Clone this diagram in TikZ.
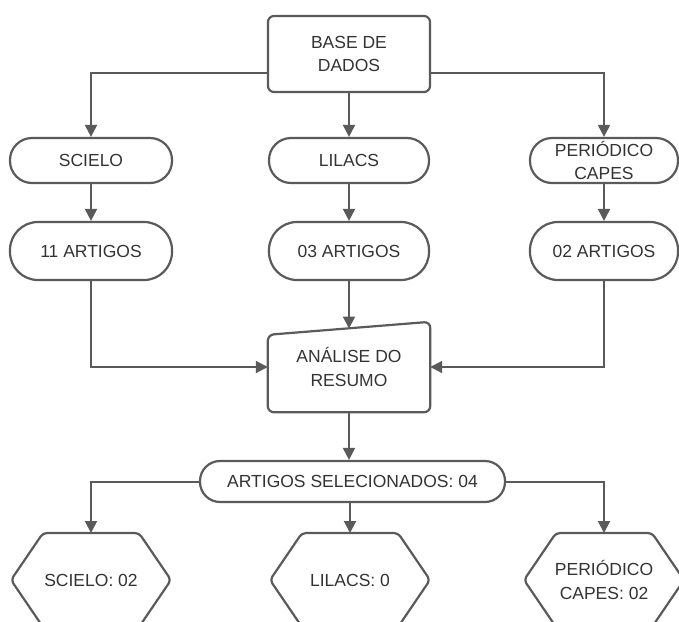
\documentclass[tikz,border=0pt]{standalone}
\usepackage{fontspec}
\setmainfont{Liberation Sans}
\usetikzlibrary{arrows.meta,calc}
\definecolor{ln}{HTML}{5A5A5A}
\definecolor{tx}{HTML}{333333}
\begin{document}
\begin{tikzpicture}[x=1pt,y=-1pt,
  every node/.style={font=\fontsize{17.5}{23.5}\selectfont, text=tx, align=center, inner sep=0pt},
  box/.style={draw=ln, line width=2.2pt, rounded corners=6pt},
  pill/.style={draw=ln, line width=2.2pt},
  link/.style={draw=ln, line width=2pt, -{Triangle[length=12pt,width=12pt]}},
  plain/.style={draw=ln, line width=2.2pt, line join=round}]
\useasboundingbox (0,0) rectangle (679,621);
% top
\node[box, minimum width=162pt, minimum height=76pt] (base) at (349,54) {BASE DE\\DADOS};
% databases
\node[pill, rounded corners=22pt, minimum width=162pt, minimum height=45pt] (sci) at (91,160.5) {SCIELO};
\node[pill, rounded corners=22pt, minimum width=160pt, minimum height=45pt] (lil) at (349,160.5) {LILACS};
\node[pill, rounded corners=22pt, minimum width=148pt, minimum height=45pt] (per) at (604,160.5) {PERIÓDICO\\CAPES};
% counts
\node[pill, rounded corners=28pt, minimum width=162pt, minimum height=58pt] (a1) at (91,251) {11 ARTIGOS};
\node[pill, rounded corners=28pt, minimum width=160pt, minimum height=58pt] (a2) at (349,251) {03 ARTIGOS};
\node[pill, rounded corners=28pt, minimum width=148pt, minimum height=58pt] (a3) at (604,251) {02 ARTIGOS};
% analysis (manual input)
\node[minimum width=162pt, minimum height=90pt] (ana) at (349,367) {ANÁLISE DO\\RESUMO};
\draw[plain, rounded corners=6pt] (ana.south west) -- ($(ana.north west)+(0,13)$) -- (ana.north east) -- (ana.south east) -- cycle;
\coordinate (anatop) at (349,328.5);
% selected
\node[pill, rounded corners=20pt, minimum width=305pt, minimum height=41pt] (sel) at (352.5,481.5) {ARTIGOS SELECIONADOS: 04};
% hexagons
\foreach \n/\cx/\t in {h1/91/{SCIELO: 02}, h2/350/{LILACS: 0}, h3/604/{PERIÓDICO\\CAPES: 02}} {
  \node (\n) at (\cx,580) {\t};
  \draw[plain, rounded corners=4pt] (\cx-80,580) -- (\cx-48,533) -- (\cx+48,533) -- (\cx+80,580) -- (\cx+48,627) -- (\cx-48,627) -- cycle;
  \coordinate (\n-top) at (\cx,533);
}
% connectors
\draw[link] ([yshift=-19pt]base.west) -| (sci.north);
\draw[link] ([yshift=-19pt]base.east) -| (per.north);
\draw[link] (base.south) -- (lil.north);
\draw[link] (sci.south) -- (a1.north);
\draw[link] (lil.south) -- (a2.north);
\draw[link] (per.south) -- (a3.north);
\draw[link] (a1.south) |- (ana.west);
\draw[link] (a3.south) |- (ana.east);
\draw[link] (a2.south) -- (anatop);
\draw[link] (ana.south) -- (ana.south |- sel.north);
\draw[link] (sel.west) -| (h1-top);
\draw[link] (sel.east) -| (h3-top);
\draw[link] (h2-top |- sel.south) -- (h2-top);
\end{tikzpicture}
\end{document}
